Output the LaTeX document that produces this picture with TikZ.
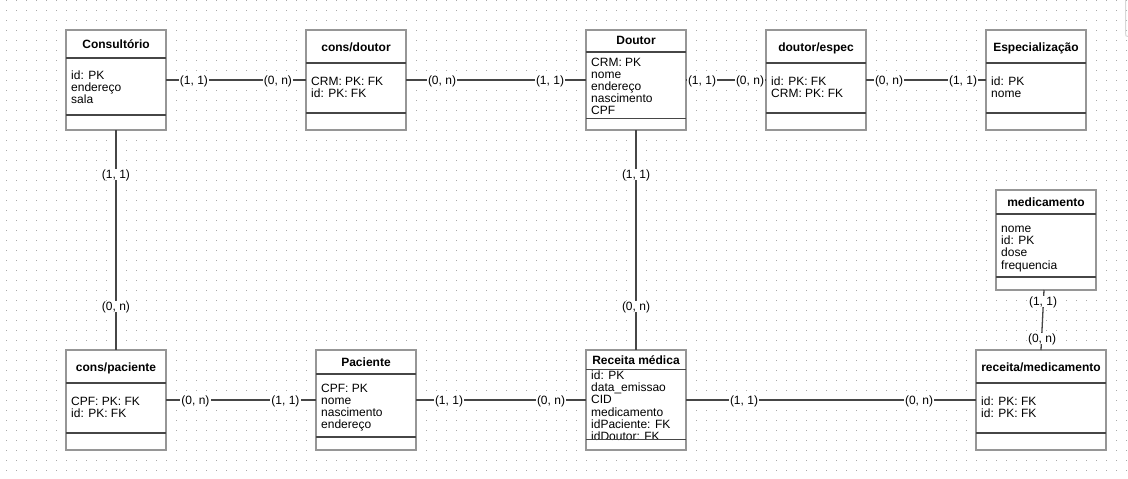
\documentclass[tikz,border=0pt]{standalone}
\usepackage{fontspec}
\setmainfont{Liberation Sans}
\definecolor{gridc}{RGB}{170,170,170}
\definecolor{boxc}{RGB}{150,150,150}
\definecolor{sepc}{RGB}{70,70,70}
\definecolor{linec}{RGB}{70,70,70}
\definecolor{edgec}{RGB}{215,215,215}
\newcommand\attrlist[1]{\begin{tabular}[t]{@{}l@{}}#1\end{tabular}}
\tikzset{
  erbox/.style={draw=boxc, line width=2pt, fill=white, minimum width=100pt, minimum height=100pt, inner sep=0pt, outer sep=0pt},
  sepline/.style={draw=sepc, line width=1.2pt},
  ttl/.style={anchor=base, font=\fontsize{12}{12}\selectfont\bfseries, inner sep=0pt},
  attr/.style={anchor=base west, font=\fontsize{12}{12}\selectfont, inner sep=0pt},
  conn/.style={draw=linec, line width=1.3pt},
  card/.style={fill=white, font=\fontsize{12}{12}\selectfont, inner xsep=1pt, inner ysep=0pt, text height=10pt, text depth=1pt},
}
\begin{document}
\begin{tikzpicture}[x=1pt,y=-1pt]
\useasboundingbox (0,0) rectangle (1128,479);
\fill[white] (0,0) rectangle (1128,479);
% dotted grid
\foreach \k in {0,...,47}
  \draw[gridc, line width=1pt, dash pattern=on 1pt off 9pt] (6,0.5+10*\k) -- (1128,0.5+10*\k);
% partial panel edge at top right
\draw[edgec, line width=1pt] (1125.5,0) -- (1125.5,33) .. controls (1125.5,36) and (1126,36.5) .. (1128,36.5);

% ---------- connectors ----------
\node[erbox] (consultorio) at (116,80) {};
\node[erbox] (consdoutor) at (356,80) {};
\node[erbox] (doutor) at (636,80) {};
\node[erbox] (doutorespec) at (816,80) {};
\node[erbox] (especializacao) at (1036,80) {};
\node[erbox] (medicamento) at (1046,240) {};
\node[erbox] (conspaciente) at (116,400) {};
\node[erbox] (paciente) at (366,400) {};
\node[erbox] (receita) at (636,400) {};
\node[erbox, minimum width=130pt] (recmed) at (1041,400) {};

\draw[conn] (consultorio.east) -- (consdoutor.west);
\draw[conn] (consdoutor.east) -- (doutor.west);
\draw[conn] (doutor.east) -- (doutorespec.west);
\draw[conn] (doutorespec.east) -- (especializacao.west);
\draw[conn] (consultorio.south) -- (conspaciente.north);
\draw[conn] (doutor.south) -- (receita.north);
\draw[conn] ([xshift=-2pt]medicamento.south) -- (recmed.north);
\draw[conn] (conspaciente.east) -- (paciente.west);
\draw[conn] (paciente.east) -- (receita.west);
\draw[conn] (receita.east) -- (recmed.west);

% ---------- cardinality labels ----------
\node[card] (c1a) at (194,80) {(1, 1)};
\node[card] (c1b) at (278,80) {(0, n)};
\node[card] (c2a) at (442,80) {(0, n)};
\node[card] (c2b) at (550,80) {(1, 1)};
\node[card] (c3a) at (702,80) {(1, 1)};
\node[card] (c3b) at (750,80) {(0, n)};
\node[card] (c4a) at (889,80) {(0, n)};
\node[card] (c4b) at (963,80) {(1, 1)};
\node[card] (c5a) at (116,174) {(1, 1)};
\node[card] (c5b) at (116,306) {(0, n)};
\node[card] (c6a) at (636,174) {(1, 1)};
\node[card] (c6b) at (636,306) {(0, n)};
\node[card] (c7a) at (1043,301) {(1, 1)};
\node[card] (c7b) at (1042,338) {(0, n)};
\node[card] (c8a) at (195.5,400) {(0, n)};
\node[card] (c8b) at (285.5,400) {(1, 1)};
\node[card] (c9a) at (449,400) {(1, 1)};
\node[card] (c9b) at (551,400) {(0, n)};
\node[card] (c10a) at (744,400) {(1, 1)};
\node[card] (c10b) at (919,400) {(0, n)};

% ---------- Consultório ----------
\node[ttl] (consultoriot) at (116,48.3) {Consultório};
\node[attr] (consultorioa) at (71,79) {\attrlist{id: PK\\endereço\\sala}};
\draw[sepline] (66,58) -- (166,58);
\draw[sepline] (66,115) -- (166,115);

% ---------- cons/doutor ----------
\node[ttl] (consdoutort) at (356,51) {cons/doutor};
\node[attr] (consdoutora) at (311,85.7) {\attrlist{CRM: PK: FK\\id: PK: FK}};
\draw[sepline] (306,63) -- (406,63);
\draw[sepline] (306,113) -- (406,113);

% ---------- Doutor ----------
\node[ttl] (doutort) at (636,45) {Doutor};
\node[attr] (doutora) at (591,66) {\attrlist{CRM: PK\\nome\\endereço\\nascimento\\CPF}};
\draw[sepline] (586,52) -- (686,52);
\draw[sepline] (586,118.7) -- (686,118.7);

% ---------- doutor/espec ----------
\node[ttl] (doutorespect) at (816,51) {doutor/espec};
\node[attr] (doutorespeca) at (771,85.7) {\attrlist{id: PK: FK\\CRM: PK: FK}};
\draw[sepline] (766,63) -- (866,63);
\draw[sepline] (766,113) -- (866,113);

% ---------- Especialização ----------
\node[ttl] (especializacaot) at (1036,51) {Especialização};
\node[attr] (especializacaoa) at (991,85.7) {\attrlist{id: PK\\nome}};
\draw[sepline] (986,63) -- (1086,63);
\draw[sepline] (986,113) -- (1086,113);

% ---------- medicamento ----------
\node[ttl] (medicamentot) at (1046,206.3) {medicamento};
\node[attr] (medicamentoa) at (1001,232.3) {\attrlist{nome\\id: PK\\dose\\frequencia}};
\draw[sepline] (996,214) -- (1096,214);
\draw[sepline] (996,277) -- (1096,277);

% ---------- cons/paciente ----------
\node[ttl] (conspacientet) at (116,371) {cons/paciente};
\node[attr] (conspacientea) at (71,405.7) {\attrlist{CPF: PK: FK\\id: PK: FK}};
\draw[sepline] (66,383) -- (166,383);
\draw[sepline] (66,433) -- (166,433);

% ---------- Paciente ----------
\node[ttl] (pacientet) at (366,366.5) {Paciente};
\node[attr] (pacientea) at (321,392.3) {\attrlist{CPF: PK\\nome\\nascimento\\endereço}};
\draw[sepline] (316,374) -- (416,374);
\draw[sepline] (316,437) -- (416,437);

% ---------- Receita médica ----------
\node[ttl] (receitat) at (636,364) {Receita médica};
\node[attr] (receitaa) at (591,379.5) {\attrlist{id: PK\\data\_emissao\\CID\\medicamento\\idPaciente: FK\\idDoutor: FK}};
\draw[sepline] (586,369.3) -- (686,369.3);
\draw[sepline] (586,439.3) -- (686,439.3);

% ---------- receita/medicamento ----------
\node[ttl] (recmedt) at (1041,371) {receita/medicamento};
\node[attr] (recmeda) at (981,405.7) {\attrlist{id: PK: FK\\id: PK: FK}};
\draw[sepline] (976,383) -- (1106,383);
\draw[sepline] (976,433) -- (1106,433);
\end{tikzpicture}
\end{document}
